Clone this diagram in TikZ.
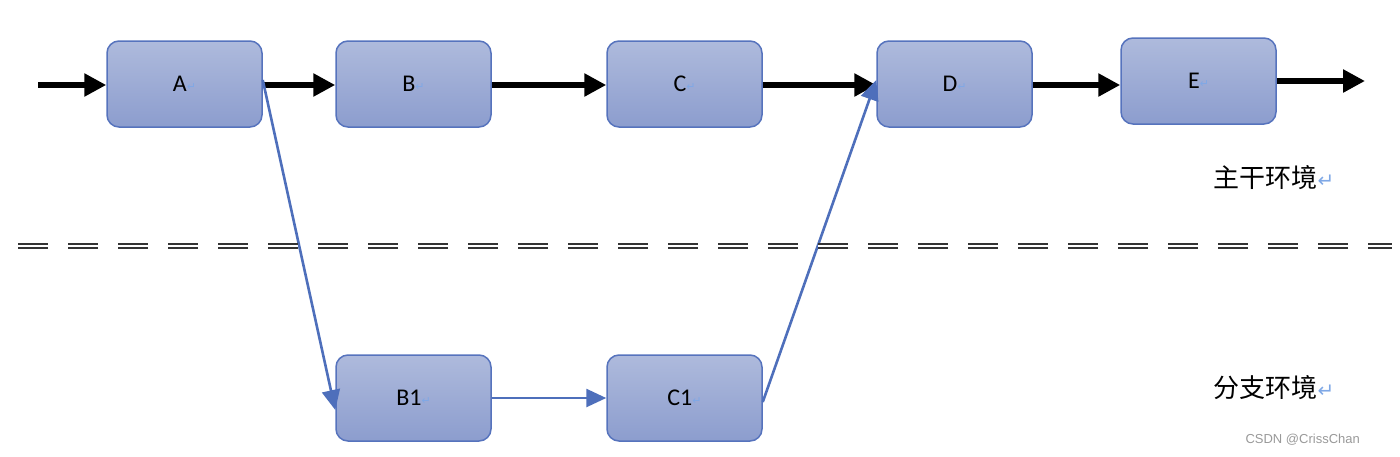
\documentclass[tikz,border=0pt]{standalone}
\usepackage{fontspec}
\setmainfont{Carlito}
\newfontfamily\cjk{Noto Sans CJK SC}
\newfontfamily\sym{DejaVu Sans}
\usetikzlibrary{arrows.meta,positioning}
\definecolor{boxtop}{HTML}{AEBADC}
\definecolor{boxbot}{HTML}{8C9DCE}
\definecolor{boxline}{HTML}{5673BD}
\definecolor{bluearr}{HTML}{4E6FBB}
\definecolor{retmark}{HTML}{7FA8E6}
\newcommand{\retm}{{\sym\fontsize{11}{11}\selectfont\color{retmark}\raisebox{1pt}{↵}}}
\newcommand{\retbig}{{\sym\fontsize{20}{20}\selectfont\color{retmark}↵}}
\tikzset{
  stage/.style={draw=boxline, line width=1.5pt, rounded corners=12pt,
    top color=boxtop, bottom color=boxbot, minimum width=155pt, minimum height=86pt,
    inner sep=0pt, font=\fontsize{24}{24}\selectfont},
  mainflow/.style={line width=5.5pt, -{Triangle[length=22pt,width=22pt]}},
  branchflow/.style={bluearr, line width=2.6pt, -{Triangle[length=20pt,width=18pt]}},
  envlabel/.style={anchor=west, font=\cjk\fontsize{26}{26}\selectfont},
  sep/.style={draw=black!80, double=white, double distance=1.2pt, line width=2pt,
    dash pattern=on 30pt off 20pt}
}
\begin{document}
\begin{tikzpicture}[x=1pt,y=-1pt]
\useasboundingbox (0,0) rectangle (1400,456);
\node[stage] (A) at (184.5,84) {A\retm};
\node[stage] (B) at (413.5,84) {B\retm};
\node[stage] (C) at (684.5,84) {C\retm};
\node[stage] (D) at (954.5,84) {D\retm};
\node[stage] (E) at (1198.5,81) {E\retm};
\node[stage] (B1) at (413.5,398) {B1\retm};
\node[stage] (C1) at (684.5,398) {C1\retm};
\coordinate (in) at (38,85);
\coordinate (out) at (1365,81);
\coordinate (sepL) at (18,246);
\coordinate (sepR) at (1392,246);
\draw[mainflow] (in) -- (A.west |- in);
\draw[mainflow] (A.east |- in) -- (B.west |- in);
\draw[mainflow] (B.east |- in) -- (C.west |- in);
\draw[mainflow] (C.east |- in) -- (D.west |- in);
\draw[mainflow] (D.east |- in) -- (E.west |- in);
\draw[mainflow] (E.east |- out) -- (out);
\draw[branchflow] ([yshift=4pt]A.east) -- ([yshift=-12pt]B1.west);
\draw[branchflow] (B1.east) -- (C1.west);
\draw[branchflow] ([yshift=-4pt]C1.east) -- ([yshift=4pt]D.west);
\draw[sep] (sepL) -- (sepR);
\node[envlabel] (main) at (1210,178) {主干环境\retbig};
\node[envlabel] (branch) at (1210,388) {分支环境\retbig};
\node[anchor=west, text=black!40, font=\fontspec{Liberation Sans}\fontsize{13}{13}\selectfont] (wm) at (1242,440) {CSDN @CrissChan};
\end{tikzpicture}
\end{document}
